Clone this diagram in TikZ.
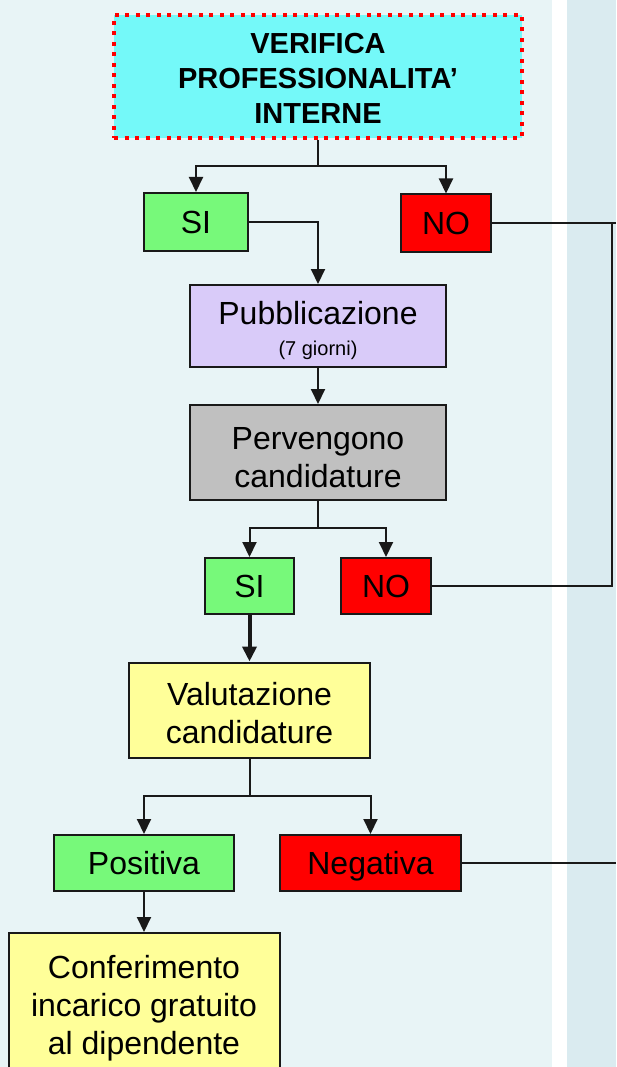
\documentclass[tikz,border=0pt]{standalone}
\usepackage{fontspec}
\setmainfont{Liberation Sans}
\usetikzlibrary{arrows.meta}
\definecolor{panel}{RGB}{232,244,246}
\definecolor{panelb}{RGB}{218,235,240}
\definecolor{cyanbox}{RGB}{116,249,249}
\definecolor{greenbox}{RGB}{119,249,122}
\definecolor{redbox}{RGB}{255,0,0}
\definecolor{lilacbox}{RGB}{217,203,249}
\definecolor{greybox}{RGB}{192,192,192}
\definecolor{yellowbox}{RGB}{255,255,153}

\begin{document}
\begin{tikzpicture}[x=1pt,y=-1pt,
		>={Triangle[length=15pt,width=14pt]},
		box/.style={draw=black!90,line width=2pt,align=center,inner sep=0pt,font=\fontsize{32}{38}\selectfont},
		oneline/.style={text height=23pt,text depth=0pt},
		link/.style={draw=black!90,line width=2pt}]
		\clip (0,0) rectangle (616,1067);
		\fill[panel] (0,0) rectangle (552,1067);
		\fill[white] (552,0) rectangle (567,1067);
		\fill[panelb] (567,0) rectangle (616,1067);
		\node[box,draw=red,line width=4pt,dash pattern=on 4pt off 6.5pt,fill=cyanbox,minimum width=408pt,minimum height=123pt,font=\bfseries\fontsize{29}{35}\selectfont] (verifica) at (318,76.5) {\rule{0pt}{25pt}VERIFICA\\PROFESSIONALITA’\\INTERNE};
		\node[box,oneline,fill=greenbox,minimum width=104pt,minimum height=58pt] (si1) at (196,222) {SI};
		\node[box,oneline,fill=redbox,minimum width=90pt,minimum height=57pt] (no1) at (446,223) {NO};
		\node[box,fill=lilacbox,minimum width=256pt,minimum height=82pt] (pub) at (318,326) {\rule{0pt}{32pt}Pubblicazione\\[-7pt]{\fontsize{20}{24}\selectfont (7 giorni)}};
		\node[box,fill=greybox,minimum width=256pt,minimum height=95pt] (perv) at (318,452.5) {\rule{0pt}{32pt}Pervengono\\candidature};
		\node[box,oneline,fill=greenbox,minimum width=89pt,minimum height=56pt] (si2) at (249.5,586) {SI};
		\node[box,oneline,fill=redbox,minimum width=90pt,minimum height=56pt] (no2) at (386,586) {NO};
		\node[box,fill=yellowbox,minimum width=241pt,minimum height=95pt] (val) at (249.5,710) {\rule{0pt}{29pt}Valutazione\\candidature};
		\node[box,oneline,fill=greenbox,minimum width=180pt,minimum height=56pt] (pos) at (144,863) {Positiva};
		\node[box,oneline,fill=redbox,minimum width=181pt,minimum height=56pt] (neg) at (370.5,863) {Negativa};
		\node[box,fill=yellowbox,minimum width=271pt,minimum height=144pt] (conf) at (144,1005) {\rule{0pt}{30pt}Conferimento\\incarico gratuito\\al dipendente};
		\coordinate (j1) at (318,166);
		\coordinate (j2) at (318,528);
		\coordinate (j3) at (249.5,796);
		\coordinate (e1) at (616,223);
		\coordinate (r1) at (612,223);
		\coordinate (r2) at (612,586);
		\coordinate (e3) at (616,863);
		\draw[link] (verifica) -- (j1);
		\foreach \n in {si1,no1} {
				\draw[link,->] (j1) -| (\n);
			}
		\draw[link,->] (si1) -| (pub);
		\draw[link,->] (pub) -- (perv);
		\draw[link] (perv) -- (j2);
		\foreach \n in {si2,no2} {
				\draw[link,->] (j2) -| (\n);
			}
		\draw[link,->,line width=4pt] (si2) -- (val);
		\draw[link] (val) -- (j3);
		\foreach \n in {pos,neg} {
				\draw[link,->] (j3) -| (\n);
			}
		\draw[link,->] (pos) -- (conf);
		\draw[link] (no1) -- (e1);
		\draw[link] (r1) -- (r2) -- (no2);
		\draw[link] (neg) -- (e3);
	\end{tikzpicture}
\end{document}
